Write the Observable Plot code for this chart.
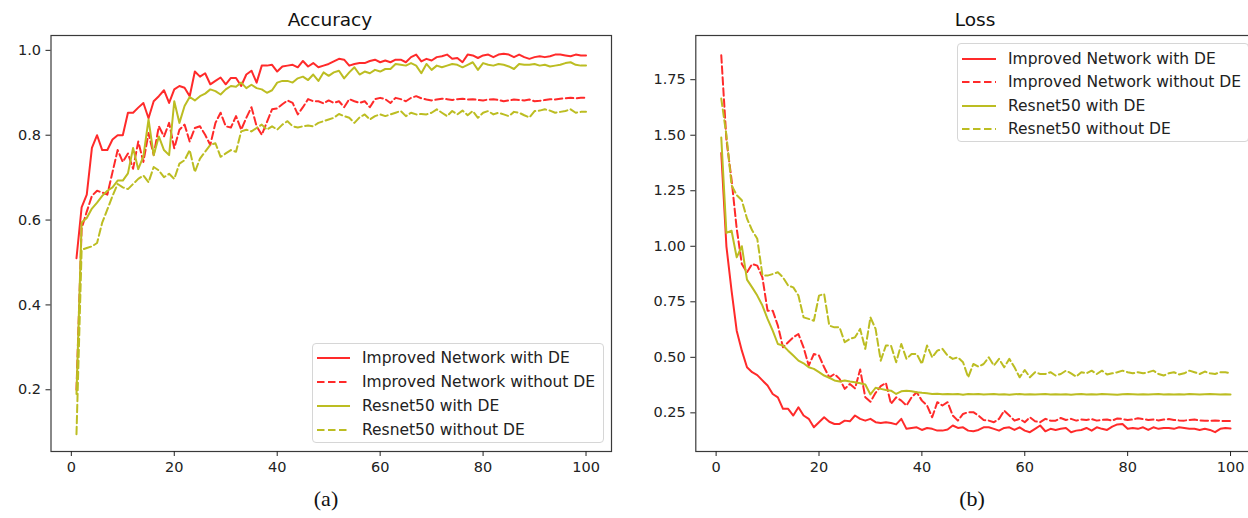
<!DOCTYPE html>
<html>
<head>
<meta charset="utf-8">
<script src="https://cdn.jsdelivr.net/npm/d3@7"></script>
<script src="https://cdn.jsdelivr.net/npm/@observablehq/plot@0.6"></script>
<style>
  html, body { margin: 0; padding: 0; background: #fff; }
  body { width: 1248px; height: 518px; overflow: hidden; position: relative; font-family: "DejaVu Sans", sans-serif; }
  .panel { position: absolute; top: 0; }
  .panel svg { max-width: none !important; }
  .title { position: absolute; font-size: 18.5px; color: #111; transform: translateX(-50%); white-space: nowrap; }
  .caption { position: absolute; font-family: "Liberation Serif", serif; font-size: 22px; color: #111; transform: translateX(-50%); }
  .legend { position: absolute; background: rgba(255,255,255,0.85); border: 1px solid #d6d6d6; border-radius: 4px; box-sizing: border-box; }
  .legend .row { position: absolute; left: 0; height: 20px; display: flex; align-items: center; font-size: 15.5px; color: #222; white-space: nowrap; }
  .legend svg { display: block; }
</style>
</head>
<body>
<div id="left" class="panel" style="left:0px; width:640px"></div>
<div id="right" class="panel" style="left:645px; width:620px"></div>
<div class="title" style="left:330px; top:9px">Accuracy</div>
<div class="title" style="left:975px; top:9px">Loss</div>
<div class="caption" style="left:326px; top:486px">(a)</div>
<div class="caption" style="left:972px; top:486px">(b)</div>
<div id="legA" class="legend" style="left:312px; top:343px; width:292px; height:100px"></div>
<div id="legB" class="legend" style="left:957px; top:43px; width:292px; height:99px"></div>
<script>
// ---------- data ----------
const epochs = d3.range(1, 101);
const seriesNames = ["Improved Network with DE", "Improved Network without DE", "Resnet50 with DE", "Resnet50 without DE"];
const seriesColors = ["#ff2a2a", "#ff2a2a", "#bcbd22", "#bcbd22"];
const seriesDashed = [false, true, false, true];

const accImprovedDE = [
  0.51,0.63,0.66,0.77,0.80,0.765,0.765,0.79,0.80,0.80,
  0.853,0.853,0.865,0.876,0.84,0.88,0.892,0.906,0.876,0.908,
  0.916,0.912,0.892,0.95,0.938,0.946,0.92,0.928,0.936,0.92,
  0.935,0.935,0.916,0.943,0.952,0.924,0.964,0.964,0.966,0.95,
  0.962,0.964,0.966,0.96,0.975,0.962,0.97,0.96,0.964,0.968,
  0.974,0.98,0.978,0.964,0.968,0.97,0.97,0.975,0.978,0.972,
  0.976,0.972,0.978,0.978,0.972,0.984,0.99,0.974,0.98,0.976,
  0.984,0.986,0.99,0.98,0.982,0.972,0.99,0.988,0.982,0.988,
  0.99,0.984,0.99,0.992,0.99,0.984,0.99,0.984,0.98,0.984,
  0.986,0.984,0.986,0.99,0.99,0.988,0.986,0.99,0.988,0.988];
const accImprovedNoDE = [
  0.2,0.58,0.62,0.657,0.669,0.665,0.66,0.713,0.765,0.737,
  0.757,0.721,0.785,0.737,0.805,0.753,0.821,0.797,0.829,0.769,
  0.813,0.825,0.785,0.817,0.821,0.801,0.777,0.829,0.853,0.821,
  0.818,0.845,0.813,0.841,0.866,0.821,0.801,0.831,0.861,0.863,
  0.873,0.882,0.876,0.849,0.866,0.885,0.88,0.88,0.875,0.882,
  0.876,0.88,0.866,0.885,0.88,0.876,0.88,0.866,0.885,0.888,
  0.885,0.876,0.888,0.885,0.88,0.888,0.892,0.887,0.884,0.882,
  0.884,0.886,0.885,0.883,0.885,0.886,0.884,0.885,0.883,0.882,
  0.884,0.885,0.883,0.88,0.882,0.884,0.883,0.882,0.884,0.88,
  0.881,0.883,0.885,0.884,0.886,0.887,0.888,0.887,0.888,0.888];
const accResnetDE = [
  0.19,0.594,0.605,0.627,0.641,0.657,0.669,0.677,0.693,0.693,
  0.71,0.77,0.72,0.75,0.837,0.753,0.797,0.765,0.753,0.88,
  0.829,0.869,0.89,0.882,0.892,0.898,0.908,0.904,0.896,0.908,
  0.916,0.914,0.924,0.911,0.919,0.911,0.908,0.9,0.906,0.924,
  0.928,0.928,0.924,0.934,0.938,0.93,0.943,0.928,0.948,0.94,
  0.948,0.952,0.934,0.948,0.96,0.943,0.95,0.946,0.954,0.95,
  0.956,0.956,0.968,0.966,0.964,0.97,0.964,0.946,0.968,0.954,
  0.964,0.96,0.964,0.968,0.966,0.96,0.966,0.972,0.954,0.97,
  0.966,0.964,0.968,0.966,0.962,0.956,0.968,0.966,0.966,0.968,
  0.964,0.966,0.962,0.964,0.966,0.97,0.972,0.966,0.964,0.964];
const accResnetNoDE = [
  0.095,0.53,0.534,0.538,0.546,0.594,0.625,0.657,0.685,0.677,
  0.673,0.685,0.697,0.705,0.689,0.725,0.717,0.701,0.709,0.697,
  0.733,0.741,0.765,0.713,0.745,0.761,0.777,0.781,0.749,0.757,
  0.765,0.761,0.809,0.813,0.809,0.817,0.825,0.813,0.821,0.813,
  0.825,0.833,0.821,0.818,0.821,0.823,0.821,0.829,0.833,0.837,
  0.841,0.85,0.845,0.841,0.829,0.842,0.849,0.837,0.845,0.849,
  0.845,0.849,0.853,0.857,0.845,0.853,0.849,0.85,0.849,0.853,
  0.861,0.853,0.845,0.857,0.849,0.858,0.847,0.857,0.841,0.853,
  0.857,0.849,0.853,0.849,0.845,0.855,0.853,0.847,0.842,0.857,
  0.858,0.861,0.858,0.853,0.855,0.857,0.861,0.853,0.855,0.855];

const lossImprovedDE = [
  1.42,1.0,0.80,0.62,0.53,0.455,0.433,0.42,0.396,0.373,
  0.335,0.32,0.268,0.268,0.238,0.275,0.238,0.223,0.185,0.208,
  0.23,0.21,0.2,0.2,0.215,0.212,0.238,0.223,0.215,0.223,
  0.208,0.204,0.208,0.204,0.198,0.223,0.178,0.182,0.185,0.173,
  0.182,0.178,0.17,0.17,0.175,0.193,0.182,0.185,0.17,0.167,
  0.173,0.185,0.185,0.178,0.17,0.182,0.185,0.173,0.185,0.17,
  0.163,0.178,0.193,0.167,0.178,0.173,0.178,0.182,0.163,0.17,
  0.173,0.182,0.17,0.185,0.178,0.173,0.188,0.198,0.2,0.178,
  0.182,0.178,0.185,0.173,0.185,0.178,0.182,0.182,0.178,0.185,
  0.182,0.178,0.178,0.173,0.178,0.173,0.163,0.178,0.182,0.18];
const lossImprovedNoDE = [
  1.86,1.48,1.30,1.08,0.92,0.883,0.92,0.913,0.86,0.71,
  0.71,0.643,0.545,0.568,0.59,0.605,0.545,0.463,0.515,0.508,
  0.455,0.41,0.425,0.403,0.358,0.38,0.36,0.445,0.32,0.30,
  0.34,0.37,0.385,0.29,0.32,0.305,0.283,0.32,0.343,0.305,
  0.283,0.23,0.298,0.283,0.298,0.238,0.215,0.245,0.253,0.253,
  0.238,0.218,0.215,0.208,0.223,0.26,0.238,0.215,0.223,0.208,
  0.23,0.212,0.208,0.223,0.215,0.215,0.227,0.218,0.223,0.215,
  0.22,0.218,0.222,0.215,0.218,0.22,0.215,0.225,0.222,0.218,
  0.22,0.226,0.222,0.218,0.22,0.216,0.22,0.222,0.218,0.216,
  0.215,0.218,0.22,0.216,0.215,0.214,0.216,0.214,0.213,0.213];
const lossResnetDE = [
  1.49,1.06,1.07,0.95,1.0,0.85,0.815,0.778,0.733,0.673,
  0.62,0.56,0.553,0.53,0.508,0.485,0.473,0.455,0.448,0.433,
  0.418,0.408,0.396,0.391,0.396,0.391,0.388,0.383,0.378,0.333,
  0.363,0.358,0.353,0.35,0.335,0.347,0.35,0.347,0.343,0.34,
  0.338,0.335,0.336,0.334,0.335,0.334,0.335,0.332,0.335,0.334,
  0.335,0.333,0.334,0.335,0.333,0.334,0.332,0.334,0.335,0.333,
  0.334,0.333,0.334,0.335,0.333,0.334,0.333,0.334,0.332,0.334,
  0.335,0.333,0.334,0.333,0.335,0.334,0.333,0.332,0.334,0.335,
  0.334,0.333,0.334,0.333,0.334,0.335,0.333,0.334,0.333,0.334,
  0.333,0.335,0.334,0.333,0.334,0.335,0.334,0.333,0.334,0.333];
const lossResnetNoDE = [
  1.665,1.5,1.275,1.23,1.207,1.125,1.072,1.034,0.87,0.868,
  0.875,0.883,0.86,0.823,0.815,0.778,0.68,0.673,0.665,0.778,
  0.785,0.643,0.635,0.635,0.568,0.583,0.59,0.628,0.538,0.68,
  0.628,0.485,0.553,0.553,0.478,0.56,0.493,0.515,0.515,0.47,
  0.553,0.5,0.53,0.538,0.508,0.493,0.5,0.478,0.41,0.47,
  0.458,0.47,0.5,0.463,0.493,0.455,0.493,0.455,0.41,0.443,
  0.41,0.433,0.425,0.425,0.433,0.418,0.425,0.44,0.428,0.413,
  0.433,0.428,0.44,0.425,0.44,0.423,0.428,0.433,0.44,0.433,
  0.428,0.433,0.428,0.433,0.44,0.425,0.418,0.428,0.433,0.423,
  0.428,0.44,0.433,0.425,0.436,0.428,0.425,0.433,0.433,0.428];

const xTicks = [0, 20, 40, 60, 80, 100];
const accTicks = [0.2, 0.4, 0.6, 0.8, 1.0];
const lossTicks = [0.25, 0.5, 0.75, 1.0, 1.25, 1.5, 1.75];

// ---------- drawing ----------
const DASH = "7.5,3.5";
const LW = 2;

function tidy(arrays) {
  return arrays.map((vals, i) => epochs.map((e, j) => ({epoch: e, value: vals[j], series: seriesNames[i]})));
}

function panel(arrays, yDomain, yTicks, yFmt, opts) {
  const data = tidy(arrays);
  const lines = data.map((d, i) => Plot.line(d, {
    x: "epoch", y: "value",
    stroke: seriesColors[i], strokeWidth: LW,
    strokeDasharray: seriesDashed[i] ? DASH : null,
    strokeLinejoin: "round"
  }));
  return Plot.plot({
    width: opts.width, height: 490,
    marginLeft: opts.marginLeft, marginRight: opts.marginRight,
    marginTop: 35, marginBottom: 39,
    x: {domain: [-3.95, 104.95]},
    y: {domain: yDomain},
    style: {fontFamily: "DejaVu Sans", fontSize: "14.5px", color: "#222", background: "transparent", overflow: "visible", maxWidth: "none"},
    marks: [
      ...lines,
      Plot.frame({stroke: "#3a3a3a", strokeWidth: 1.2}),
      Plot.axisX({ticks: xTicks, tickSize: 5, tickPadding: 5, label: null, tickFormat: d3.format("d")}),
      Plot.axisY({ticks: yTicks, tickSize: 5, tickPadding: 5, label: null, tickFormat: d3.format(yFmt)})
    ]
  });
}

document.getElementById("left").append(
  panel([accImprovedDE, accImprovedNoDE, accResnetDE, accResnetNoDE], [0.0545, 1.035], accTicks, ".1f",
        {width: 640, marginLeft: 50.5, marginRight: 29})
);
document.getElementById("right").append(
  panel([lossImprovedDE, lossImprovedNoDE, lossResnetDE, lossResnetNoDE], [0.076, 1.949], lossTicks, ".2f",
        {width: 620, marginLeft: 50.3, marginRight: 9.5})
);

function legend(el, rowTops, sampleX, textX) {
  seriesNames.forEach((name, i) => {
    const row = document.createElement("div");
    row.className = "row";
    row.style.top = (rowTops[i] - 10) + "px";
    const ns = "http://www.w3.org/2000/svg";
    const svg = document.createElementNS(ns, "svg");
    svg.setAttribute("width", textX);
    svg.setAttribute("height", 20);
    const ln = document.createElementNS(ns, "line");
    ln.setAttribute("x1", sampleX[0]); ln.setAttribute("x2", sampleX[1]);
    ln.setAttribute("y1", 10); ln.setAttribute("y2", 10);
    ln.setAttribute("stroke", seriesColors[i]);
    ln.setAttribute("stroke-width", LW);
    if (seriesDashed[i]) ln.setAttribute("stroke-dasharray", DASH);
    svg.append(ln);
    const span = document.createElement("span");
    span.textContent = name;
    row.append(svg, span);
    el.append(row);
  });
}
// legend positions relative to each box
legend(document.getElementById("legA"), [14, 38, 62, 86], [4, 37], 49);
legend(document.getElementById("legB"), [15, 38, 62, 85], [4, 38], 50);
</script>
</body>
</html>
